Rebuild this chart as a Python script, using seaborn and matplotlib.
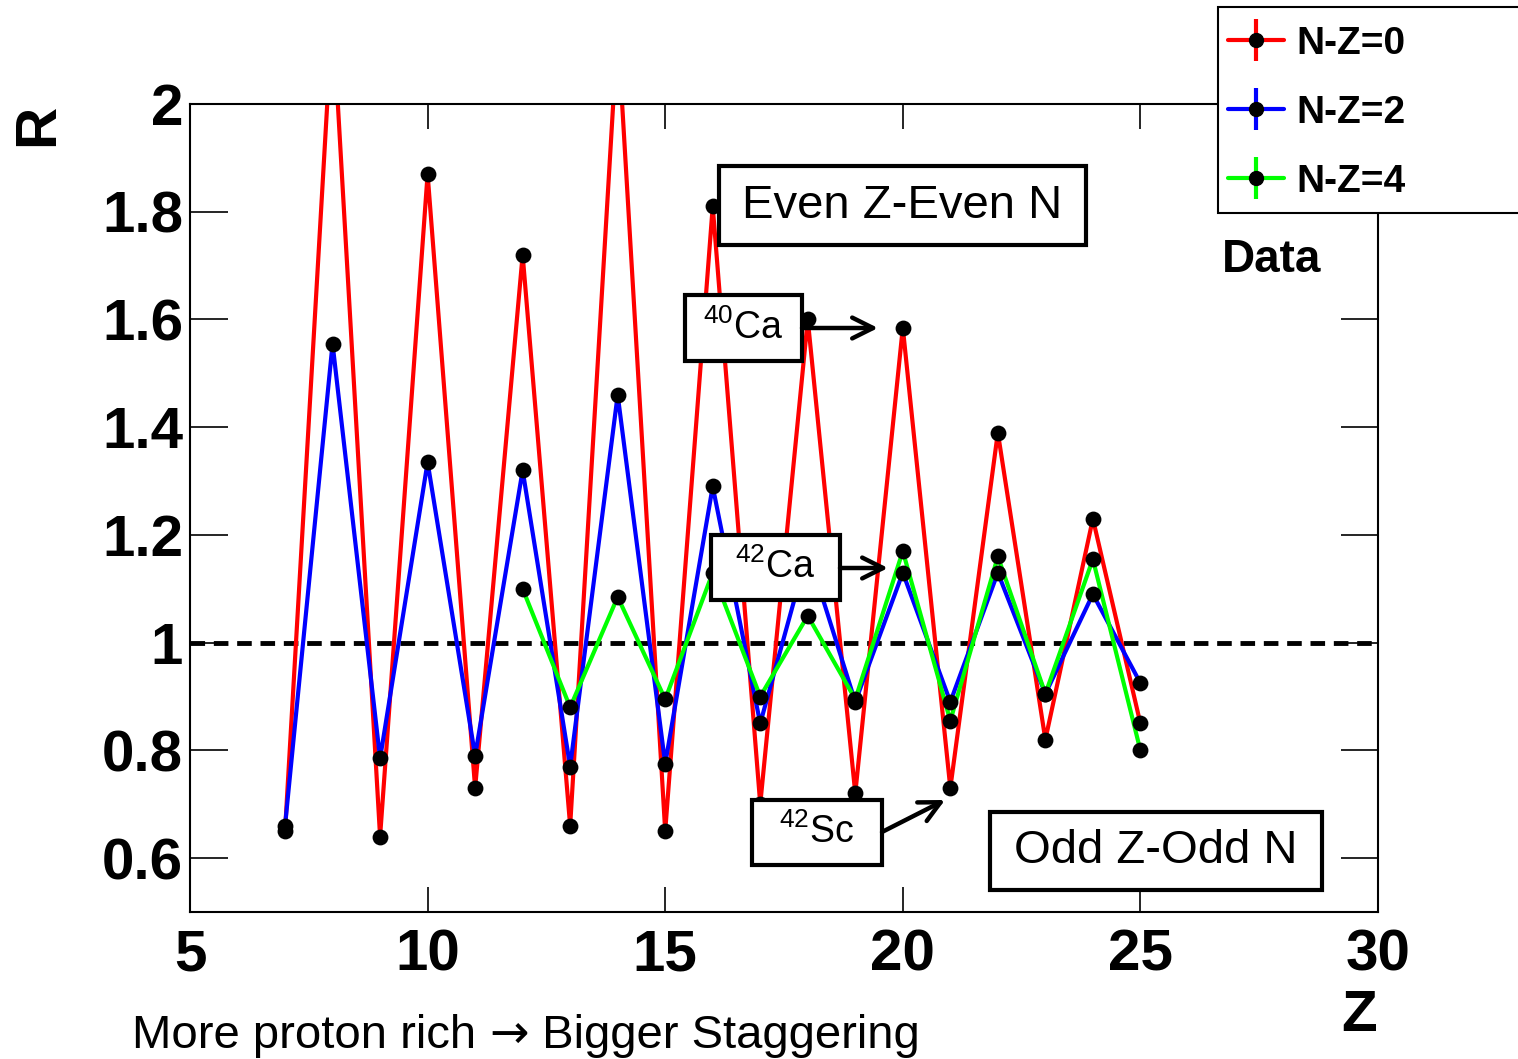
import matplotlib
matplotlib.use("Agg")
import matplotlib.pyplot as plt
import seaborn as sns
import pandas as pd
import numpy as np
from matplotlib.patches import Rectangle
from matplotlib.lines import Line2D
from matplotlib.legend_handler import HandlerTuple
from matplotlib.offsetbox import TextArea, HPacker, AnnotationBbox

# ---------------- data ----------------
z_all = [7, 8, 9, 10, 11, 12, 13, 14, 15, 16, 17, 18, 19, 20, 21, 22, 23, 24, 25]
r_nz0 = [0.65, 2.17, 0.64, 1.87, 0.73, 1.72, 0.66, 2.14, 0.65, 1.81, 0.70, 1.60,
         0.72, 1.585, 0.73, 1.39, 0.82, 1.23, 0.85]
r_nz2 = [0.66, 1.555, 0.785, 1.335, 0.79, 1.32, 0.77, 1.46, 0.775, 1.29, 0.85, 1.17,
         0.89, 1.13, 0.89, 1.13, 0.905, 1.09, 0.925]
z_nz4 = [12, 13, 14, 15, 16, 17, 18, 19, 20, 21, 22, 23, 24, 25]
r_nz4 = [1.10, 0.88, 1.085, 0.895, 1.13, 0.90, 1.05, 0.895, 1.17, 0.855, 1.16,
         0.905, 1.155, 0.80]
series_names = ["N-Z=0", "N-Z=2", "N-Z=4"]
series_colors = ["#ff0000", "#0000ff", "#00ff00"]
x_ticks = [5, 10, 15, 20, 25, 30]
y_ticks = [0.6, 0.8, 1.0, 1.2, 1.4, 1.6, 1.8, 2.0]
y_tick_labels = ["0.6", "0.8", "1", "1.2", "1.4", "1.6", "1.8", "2"]

df = pd.concat([
    pd.DataFrame({"Z": z_all, "R": r_nz0, "series": series_names[0]}),
    pd.DataFrame({"Z": z_all, "R": r_nz2, "series": series_names[1]}),
    pd.DataFrame({"Z": z_nz4, "R": r_nz4, "series": series_names[2]}),
], ignore_index=True)

# ---------------- style ----------------
sns.set_style("ticks")
plt.rcParams["font.family"] = ["Liberation Sans", "DejaVu Sans"]
plt.rcParams["text.color"] = "black"
plt.rcParams["axes.labelcolor"] = "black"
plt.rcParams["xtick.color"] = "black"
plt.rcParams["ytick.color"] = "black"
plt.rcParams["mathtext.fontset"] = "custom"
plt.rcParams["mathtext.rm"] = "Liberation Sans"
plt.rcParams["mathtext.default"] = "regular"

W, H = 1518, 1059
fig = plt.figure(figsize=(W / 100, H / 100), dpi=100)
ax = fig.add_axes([190 / W, 1 - 912 / H, (1378 - 190) / W, (912 - 104) / H])

palette = dict(zip(series_names, series_colors))
sns.lineplot(data=df, x="Z", y="R", hue="series", hue_order=series_names,
             palette=palette, linewidth=3.0, legend=False, sort=False,
             errorbar=None, ax=ax, zorder=2)
sns.scatterplot(data=df, x="Z", y="R", color="black", s=130, linewidth=0,
                legend=False, ax=ax, zorder=3)

ax.axhline(1.0, color="black", lw=3.5, dashes=(3.0, 1.8), zorder=1.5)

ax.set_xlim(5, 30)
ax.set_ylim(0.5, 2.0)
ax.set_xticks(x_ticks)
ax.set_xticklabels([str(v) for v in x_ticks])
ax.set_yticks(y_ticks)
ax.set_yticklabels(y_tick_labels)
ax.minorticks_off()
ax.tick_params(axis="x", direction="in", length=18, width=1.2, top=True,
               labelsize=42, pad=12, colors="black")
ax.tick_params(axis="y", direction="in", length=27, width=1.2, right=True,
               labelsize=42, pad=5, colors="black")
for lbl in ax.get_xticklabels() + ax.get_yticklabels():
    lbl.set_fontweight("bold")
for sp in ax.spines.values():
    sp.set_linewidth(1.5)
    sp.set_color("black")
ax.set_xlabel("")
ax.set_ylabel("")

# axis titles
fig.text(38 / W, 1 - 125 / H, "R", rotation=90, fontsize=42, fontweight="bold",
         ha="center", va="center", color="black")
fig.text(1359 / W, 1 - 1016 / H, "Z", fontsize=42, fontweight="bold",
         ha="center", va="center", color="black")

# bottom remark, with a full-size arrow glyph
tp = dict(fontsize=34, color="black", family=["Liberation Sans"])
tpa = dict(fontsize=34, color="black", family=["DejaVu Sans"])
pack = HPacker(children=[TextArea("More proton rich ", textprops=tp),
                         TextArea("\u2192", textprops=tpa),
                         TextArea(" Bigger Staggering", textprops=tp)],
               align="baseline", pad=0, sep=0)
fig.add_artist(AnnotationBbox(pack, (132 / W, 1 - 1058 / H),
                              xycoords="figure fraction", box_alignment=(0, 0),
                              frameon=False, pad=0))


# ---------------- annotation boxes ----------------
def fx(px):
    return (px - 190) / 1188


def fy(py):
    return (912 - py) / 808


def box(x0, y0, x1, y1, text, size):
    ax.add_patch(Rectangle((fx(x0), fy(y1)), fx(x1) - fx(x0), fy(y0) - fy(y1),
                           transform=ax.transAxes, fc="white", ec="black",
                           lw=3.0, zorder=4, clip_on=False))
    ax.text((fx(x0) + fx(x1)) / 2, (fy(y0) + fy(y1)) / 2, text, fontsize=size,
            ha="center", va="center", transform=ax.transAxes, zorder=5,
            color="black")


box(719, 166, 1086, 245, "Even Z-Even N", 34)
box(685, 295, 802, 361, r"$^{40}$Ca", 27)
box(711, 535, 840, 600, r"$^{42}$Ca", 27)
box(752, 800, 882, 865, r"$^{42}$Sc", 27)
box(990, 812, 1322, 890, "Odd Z-Odd N", 34)

arrow_kw = dict(arrowstyle="->,head_length=1.5,head_width=0.75", lw=3.2,
                color="black", shrinkA=0, shrinkB=0)
for (x0, y0), (x1, y1) in [((802, 328), (878, 328)),
                           ((840, 568), (888, 568)),
                           ((882, 832), (945, 800))]:
    ax.annotate("", xy=(fx(x1), fy(y1)), xytext=(fx(x0), fy(y0)),
                xycoords="axes fraction", textcoords="axes fraction",
                arrowprops=arrow_kw, zorder=5)

ax.text(fx(1222), fy(260), "Data", fontsize=33, fontweight="bold",
        ha="left", va="center", transform=ax.transAxes, zorder=5, color="black")

# ---------------- legend ----------------
fig.patches.append(Rectangle((1218 / W, 1 - 213 / H), (1530 - 1218) / W, 206 / H,
                             transform=fig.transFigure, fc="white", ec="black",
                             lw=1.5, zorder=3))
handles = []
for c in series_colors:
    bar = Line2D([], [], ls="none", marker="|", ms=30, mew=3.0, color=c)
    ln = Line2D([], [], color=c, lw=3.0, marker="o", ms=10, mfc="black",
                mec="black")
    handles.append((bar, ln))
leg = fig.legend(handles, series_names, handler_map={tuple: HandlerTuple(ndivide=1)},
                 loc="upper left", bbox_to_anchor=(1228 / W, 1 - 26 / H),
                 frameon=False, borderpad=0, borderaxespad=0,
                 handlelength=1.45, handletextpad=0.3, labelspacing=0.85,
                 prop={"size": 28, "weight": "bold"})
for t in leg.get_texts():
    t.set_color("black")
leg.set_zorder(6)

fig.savefig("out.png", dpi=100)
